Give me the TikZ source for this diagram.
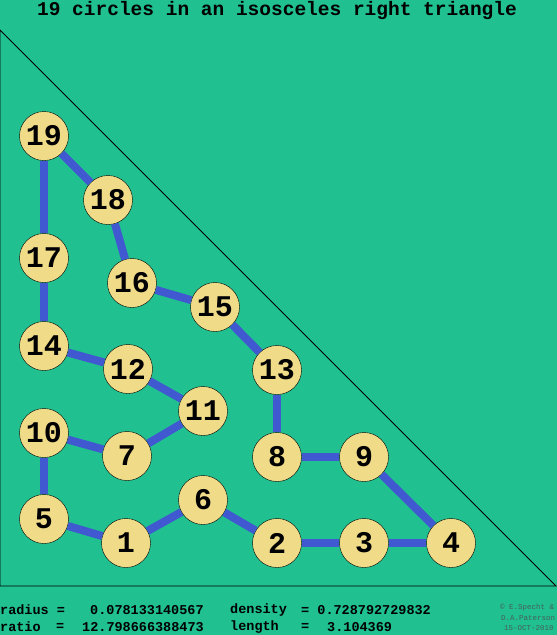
\documentclass[tikz,border=0pt]{standalone}
\usepackage{fontspec}
\setmonofont{Liberation Mono}
\definecolor{bggreen}{RGB}{32,192,144}
\definecolor{discfill}{RGB}{240,220,136}
\definecolor{linkblue}{RGB}{64,88,208}
\definecolor{notegray}{RGB}{70,95,90}
\begin{document}
\begin{tikzpicture}[x=1pt,y=-1pt]
  \tikzset{ c/.style={circle,draw=black,thin,fill=discfill,inner sep=0pt,minimum size=49pt,
      font=\ttfamily\bfseries\fontsize{30}{30}\selectfont},
    link/.style={linkblue,line width=8pt},
    info/.style={anchor=west,inner sep=0pt,font=\ttfamily\bfseries\fontsize{13.5}{14}\selectfont},
    note/.style={anchor=west,inner sep=0pt,notegray,font=\ttfamily\fontsize{7.5}{8}\selectfont},
  }
  \fill[bggreen] (0,0) rectangle (557,635);
  \useasboundingbox (0,0) rectangle (557,635);

  \node[inner sep=0pt,font=\ttfamily\bfseries\fontsize{19.5}{20}\selectfont] (title) at (277,10) {19 circles in an isosceles right triangle};

  % the container
  \coordinate (A) at (0,30);
  \coordinate (B) at (0,586);
  \coordinate (C) at (556,586);
  \draw[black,line width=0.8pt] (A) -- (B) -- (C) -- cycle;

  \node[c] (19) at (44,136) {19};
  \node[c] (18) at (108,200) {18};
  \node[c] (17) at (44,258) {17};
  \node[c] (16) at (132,283) {16};
  \node[c] (15) at (215,307) {15};
  \node[c] (14) at (44,346) {14};
  \node[c] (12) at (128,369) {12};
  \node[c] (13) at (277,370) {13};
  \node[c] (11) at (203,411) {11};
  \node[c] (10) at (44,433) {10};
  \node[c] (7)  at (127,456) {7};
  \node[c] (8)  at (277,457) {8};
  \node[c] (9)  at (364,457) {9};
  \node[c] (6)  at (203,500) {6};
  \node[c] (5)  at (44,519) {5};
  \node[c] (1)  at (126,543) {1};
  \node[c] (2)  at (277,543) {2};
  \node[c] (3)  at (364,543) {3};
  \node[c] (4)  at (451,543) {4};

  % the path through the circles
  \draw[link] (19) -- (18);
  \draw[link] (19) -- (17);
  \draw[link] (18) -- (16);
  \draw[link] (16) -- (15);
  \draw[link] (15) -- (13);
  \draw[link] (13) -- (8);
  \draw[link] (8) -- (9);
  \draw[link] (9) -- (4);
  \draw[link] (4) -- (3);
  \draw[link] (3) -- (2);
  \draw[link] (2) -- (6);
  \draw[link] (6) -- (1);
  \draw[link] (1) -- (5);
  \draw[link] (5) -- (10);
  \draw[link] (10) -- (7);
  \draw[link] (7) -- (11);
  \draw[link] (11) -- (12);
  \draw[link] (12) -- (14);
  \draw[link] (14) -- (17);

  % figures below
  \node[info] (r1) at (0,610) {radius =};
  \node[info] (r2) at (90,610) {0.078133140567};
  \node[info] (d1) at (230,610) {density};
  \node[info] (d2) at (301,610) {= 0.728792729832};
  \node[info] (q1) at (0,627) {ratio};
  \node[info] (q2) at (56,627) {=};
  \node[info] (q3) at (82,627) {12.798666388473};
  \node[info] (l1) at (230,627) {length};
  \node[info] (l2) at (301,627) {=};
  \node[info] (l3) at (327,627) {3.104369};

  \node[note] (n1) at (500,608) {\textcopyright{} E.S\textsc{pecht} \&};
  \node[note] (n2) at (501,618) {D.A.P\textsc{aterson}};
  \node[note] (n3) at (504,628) {15-OCT-2010};
\end{tikzpicture}
\end{document}
